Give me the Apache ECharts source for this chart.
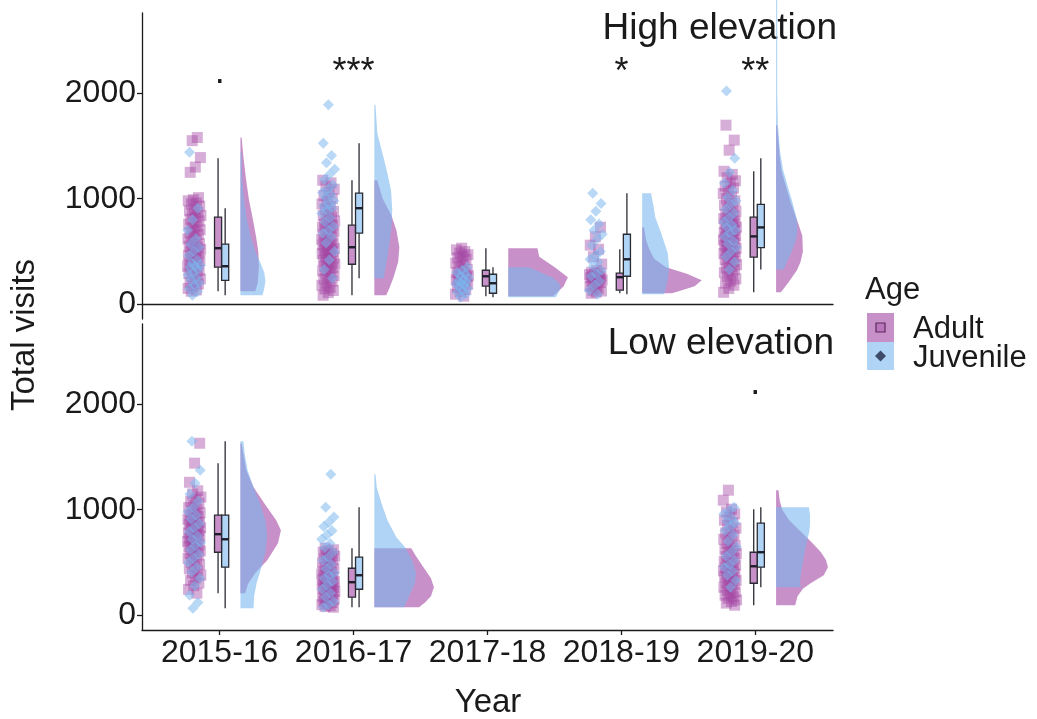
<!DOCTYPE html>
<html>
<head>
<meta charset="utf-8">
<script src="https://cdn.jsdelivr.net/npm/echarts@6.0.0/dist/echarts.min.js"></script>
<style>
  html, body { margin: 0; padding: 0; background: #fff; }
  #chart { width: 1037px; height: 719px; }
</style>
</head>
<body>
<div id="chart"></div>
<script>
// ---- data ---------------------------------------------------------------
const years = ['2015-16', '2016-17', '2017-18', '2018-19', '2019-20'];
const yTicks = [0, 1000, 2000];

// Total visits per bird, high elevation site (one list per year)
const highAdult = [
  [1580, 1550, 1390, 1300, 1250, 1010, 990, 980, 960, 950, 930, 900, 885, 870, 855, 840, 820, 805, 790, 775, 760, 740, 720, 705, 690, 675, 660, 640, 620, 605, 590, 575, 560, 550, 540, 530, 520, 510, 495, 480, 470, 460, 445, 430, 415, 400, 390, 380, 370, 360, 350, 335, 320, 305, 290, 275, 260, 240, 220, 205, 190, 170, 150, 135, 123],
  [1175, 1150, 1120, 1090, 1060, 1030, 1000, 975, 950, 925, 900, 880, 860, 840, 820, 805, 790, 775, 760, 750, 740, 730, 720, 705, 690, 675, 660, 645, 630, 615, 600, 590, 580, 570, 560, 550, 540, 530, 520, 510, 500, 490, 480, 465, 450, 440, 430, 415, 400, 390, 380, 370, 360, 345, 330, 315, 300, 285, 270, 255, 240, 220, 200, 180, 160, 145, 130, 110, 85],
  [531, 515, 500, 485, 470, 455, 440, 425, 410, 390, 370, 350, 330, 315, 300, 290, 280, 270, 265, 260, 250, 240, 230, 220, 205, 190, 175, 160, 140, 120, 95, 76],
  [730, 640, 560, 521, 450, 380, 320, 300, 294, 288, 280, 272, 265, 260, 256, 250, 245, 238, 230, 222, 215, 205, 190, 170, 150, 133, 125, 115, 104],
  [1697, 1555, 1460, 1260, 1230, 1200, 1170, 1150, 1120, 1100, 1075, 1050, 1020, 1000, 980, 960, 940, 920, 900, 880, 865, 850, 838, 826, 812, 800, 790, 780, 770, 760, 750, 740, 730, 720, 710, 700, 690, 680, 670, 660, 650, 643, 636, 630, 620, 610, 600, 590, 580, 570, 560, 550, 540, 530, 520, 510, 500, 490, 480, 470, 458, 447, 435, 420, 405, 390, 375, 360, 345, 330, 315, 300, 280, 260, 240, 220, 200, 180, 150, 113]
];
const highJuvenile = [
  [1440, 910, 800, 700, 620, 569, 540, 500, 460, 420, 390, 370, 360, 350, 330, 300, 280, 250, 227, 200, 180, 150, 120, 85],
  [1890, 1526, 1410, 1340, 1280, 1230, 1180, 1130, 1090, 1060, 1040, 1010, 980, 950, 930, 910, 890, 860, 820, 780, 740, 700, 673, 640, 580, 500, 420, 330, 246],
  [351, 320, 300, 284, 270, 255, 240, 225, 210, 200, 190, 180, 165, 150, 130, 110, 95, 66],
  [1052, 955, 880, 800, 760, 700, 663, 620, 560, 500, 460, 426, 400, 360, 320, 290, 265, 220, 180, 133, 95],
  [2900, 2020, 1383, 1250, 1150, 1080, 1014, 980, 946, 900, 862, 820, 780, 750, 728, 700, 670, 640, 600, 570, 537, 500, 450, 400, 330]
];
// Total visits per bird, low elevation site (no recordings in 2017-18, 2018-19)
const lowAdult = [
  [1630, 1441, 1260, 1180, 1150, 1120, 1100, 1080, 1060, 1040, 1020, 1000, 985, 970, 960, 948, 935, 920, 910, 900, 890, 880, 870, 860, 850, 840, 830, 820, 810, 800, 790, 780, 768, 760, 750, 740, 730, 720, 710, 700, 690, 680, 670, 660, 650, 635, 620, 610, 597, 585, 570, 555, 540, 520, 500, 480, 460, 440, 420, 400, 380, 355, 330, 305, 280, 245, 209],
  [635, 620, 610, 598, 585, 572, 560, 548, 535, 522, 510, 495, 480, 462, 445, 432, 420, 410, 400, 390, 380, 370, 360, 350, 340, 332, 325, 318, 313, 306, 300, 292, 285, 278, 270, 262, 255, 248, 240, 232, 225, 218, 210, 200, 190, 180, 171, 160, 150, 140, 130, 120, 110, 100, 90, 83, 76],
  [],
  [],
  [1185, 1090, 1005, 980, 960, 930, 900, 875, 850, 825, 800, 780, 760, 740, 720, 700, 680, 660, 640, 625, 610, 597, 585, 570, 555, 540, 525, 510, 500, 490, 477, 464, 452, 440, 430, 420, 410, 400, 390, 380, 365, 350, 340, 330, 316, 303, 290, 280, 265, 250, 235, 220, 205, 190, 175, 160, 145, 130, 115, 95]
];
const lowJuvenile = [
  [1649, 1374, 1250, 1150, 1080, 1020, 980, 948, 910, 870, 830, 790, 750, 720, 690, 660, 620, 580, 540, 500, 455, 410, 350, 280, 190, 120, 66],
  [1336, 1024, 930, 882, 840, 800, 760, 720, 680, 640, 600, 550, 520, 480, 440, 400, 379, 350, 320, 290, 246, 210, 170, 130, 100, 76],
  [],
  [],
  [1024, 990, 960, 920, 890, 872, 840, 800, 760, 700, 650, 597, 560, 520, 480, 455, 420, 380, 330, 265]
];

// Box summaries: [lower whisker, Q1, median, Q3, upper whisker]
const highAdultBox = [[123, 351, 531, 825, 1384], [85, 379, 540, 749, 1175], [76, 171, 265, 322, 531], [104, 133, 256, 294, 521], [113, 447, 643, 826, 1260]];
const highJuvenileBox = [[85, 227, 360, 569, 910], [246, 673, 910, 1052, 1526], [66, 104, 199, 284, 351], [95, 265, 426, 663, 1052], [330, 537, 728, 946, 1383]];
const lowAdultBox = [[209, 597, 768, 948, 1441], [76, 171, 313, 445, 635], null, null, [95, 303, 464, 597, 1005]];
const lowJuvenileBox = [[66, 455, 720, 948, 1649], [76, 246, 379, 550, 1024], null, null, [265, 455, 597, 872, 1024]];

// Density profiles: [visits, density relative to the tallest slab], low to high
const highAdultDensity = [
  [[123, 0.25], [200, 0.29], [350, 0.31], [500, 0.3], [650, 0.26], [800, 0.21], [1000, 0.14], [1200, 0.09], [1400, 0.05], [1580, 0.02]],
  [[85, 0.2], [150, 0.25], [250, 0.32], [400, 0.4], [540, 0.42], [700, 0.37], [850, 0.28], [1000, 0.14], [1175, 0.05]],
  [[76, 0.75], [100, 0.8], [170, 0.93], [256, 1.0], [350, 0.78], [450, 0.52], [531, 0.49]],
  [[104, 0.5], [120, 0.6], [170, 0.88], [227, 1.0], [290, 0.75], [351, 0.4], [430, 0.2], [521, 0.12], [600, 0.07], [730, 0.03]],
  [[113, 0.08], [200, 0.2], [322, 0.35], [400, 0.41], [500, 0.45], [650, 0.44], [800, 0.35], [957, 0.25], [1109, 0.17], [1270, 0.09], [1400, 0.06], [1555, 0.04], [1697, 0.02]]
];
const highJuvenileDensity = [
  [[85, 0.37], [150, 0.4], [220, 0.42], [300, 0.4], [400, 0.33], [500, 0.25], [650, 0.17], [800, 0.11], [1000, 0.06], [1200, 0.03], [1440, 0.01]],
  [[246, 0.16], [350, 0.19], [450, 0.22], [600, 0.26], [750, 0.29], [900, 0.3], [1080, 0.28], [1240, 0.22], [1400, 0.15], [1620, 0.05], [1890, 0.01]],
  [[66, 0.8], [120, 0.85], [160, 0.88], [200, 0.85], [250, 0.75], [300, 0.55], [351, 0.35]],
  [[95, 0.37], [227, 0.43], [351, 0.45], [483, 0.43], [673, 0.32], [825, 0.22], [900, 0.2], [1052, 0.15]],
  [[330, 0.13], [400, 0.18], [480, 0.25], [600, 0.33], [700, 0.36], [800, 0.35], [957, 0.28], [1109, 0.2], [1270, 0.12], [1431, 0.07], [1700, 0.03], [2020, 0.01], [2900, 0.0]]
];
const lowAdultDensity = [
  [[209, 0.08], [300, 0.13], [400, 0.25], [521, 0.45], [682, 0.63], [805, 0.68], [900, 0.6], [1062, 0.4], [1213, 0.22], [1374, 0.1], [1500, 0.06], [1630, 0.02]],
  [[76, 0.75], [120, 0.85], [180, 0.95], [265, 1.0], [350, 0.95], [450, 0.83], [560, 0.7], [635, 0.62]],
  null,
  null,
  [[95, 0.32], [180, 0.36], [250, 0.45], [303, 0.58], [380, 0.8], [455, 0.87], [520, 0.84], [600, 0.75], [700, 0.58], [800, 0.4], [900, 0.22], [1005, 0.1], [1090, 0.06], [1185, 0.04]]
];
const lowJuvenileDensity = [
  [[66, 0.22], [180, 0.23], [300, 0.27], [450, 0.35], [600, 0.42], [750, 0.45], [900, 0.42], [1062, 0.33], [1213, 0.22], [1374, 0.12], [1536, 0.07], [1649, 0.05]],
  [[76, 0.5], [200, 0.6], [300, 0.68], [400, 0.7], [500, 0.65], [635, 0.53], [739, 0.37], [900, 0.22], [1062, 0.12], [1213, 0.04], [1336, 0.02]],
  null,
  null,
  [[265, 0.42], [300, 0.4], [400, 0.42], [500, 0.45], [600, 0.48], [700, 0.52], [800, 0.56], [872, 0.57], [950, 0.57], [1024, 0.55]]
];

// Significance of the age difference per year
const highSignif = ['.', '***', '', '*', '**'];
const lowSignif = ['', '', '', '', '.'];
const signifAt = 2190;

// ---- styling / layout ---------------------------------------------------
const FONT = "'Liberation Sans', Arial, Helvetica, sans-serif";
const INK = '#1a1a1a';
const ADULT_PT = 'rgba(163,70,163,0.55)';
const JUV_PT = 'rgba(123,183,238,0.68)';
const ADULT_FILL = 'rgba(163,70,163,0.6)';
const JUV_FILL = 'rgba(123,183,238,0.6)';
const BOX_LINE = '#2b2b33';

const X_MIN = 0.42, X_MAX = 5.58;
const Y_MIN = -140, Y_MAX = 2760;
const BOX_W = 0.053, ADULT_BOX_DX = -0.012, JUV_BOX_DX = 0.041;
const SLAB_DX = 0.155, SLAB_MAX_W = 0.445;
const PT_DX = -0.19, PT_SPREAD = 0.1;

// even horizontal spread of the raw points beside each box
function spread(i, seed) {
  const f = ((i + 1) * 0.6180339887 + seed) % 1;
  return PT_DX + (f - 0.5) * PT_SPREAD;
}

function pointData(groups, seed) {
  const out = [];
  groups.forEach((vals, k) => {
    vals.forEach((v, i) => out.push([k + 1 + spread(i, seed + k * 0.37), v]));
  });
  return out;
}

function slabSeries(profiles, fill, gi, z) {
  const data = [];
  profiles.forEach((p, k) => { if (p) data.push([k + 1, p[0][0]]); });
  return {
    type: 'custom', xAxisIndex: gi, yAxisIndex: gi, z, silent: true,
    encode: { x: 0, y: 1 },
    data,
    renderItem(params, api) {
      const k = api.value(0);
      const prof = profiles[k - 1];
      const x0 = k + SLAB_DX;
      const base = prof.map(([v]) => api.coord([x0, v]));
      const edge = prof.map(([v, d], j) => {
        const p = api.coord([x0 + d * SLAB_MAX_W, v]);
        return [Math.max(p[0], base[j][0] + 1.1), p[1]];
      });
      return { type: 'polygon', shape: { points: base.concat(edge.reverse()) }, style: { fill, stroke: null } };
    }
  };
}

function boxSeries(boxes, dx, fill, gi) {
  const data = [];
  boxes.forEach((b, k) => { if (b) data.push([k + 1].concat(b)); });
  return {
    type: 'custom', xAxisIndex: gi, yAxisIndex: gi, z: 5, silent: true,
    encode: { x: 0, y: [1, 2, 3, 4, 5] },
    data,
    renderItem(params, api) {
      const x = api.value(0) + dx;
      const lo = api.value(1), q1 = api.value(2), md = api.value(3), q3 = api.value(4), hi = api.value(5);
      const top = api.coord([x, hi]), bot = api.coord([x, lo]);
      const tl = api.coord([x - BOX_W / 2, q3]), br = api.coord([x + BOX_W / 2, q1]);
      const mdl = api.coord([x - BOX_W / 2, md]), mdr = api.coord([x + BOX_W / 2, md]);
      const ls = { stroke: BOX_LINE, lineWidth: 1.3 };
      return {
        type: 'group',
        children: [
          { type: 'line', shape: { x1: top[0], y1: top[1], x2: top[0], y2: tl[1] }, style: ls },
          { type: 'line', shape: { x1: bot[0], y1: br[1], x2: bot[0], y2: bot[1] }, style: ls },
          { type: 'rect', shape: { x: tl[0], y: tl[1], width: br[0] - tl[0], height: br[1] - tl[1] }, style: { fill, stroke: BOX_LINE, lineWidth: 1.3 } },
          { type: 'line', shape: { x1: mdl[0], y1: mdl[1], x2: mdr[0], y2: mdr[1] }, style: { stroke: '#1e1e2a', lineWidth: 2.4 } }
        ]
      };
    }
  };
}

function signifSeries(marks, gi) {
  const data = [];
  marks.forEach((m, k) => { if (m) data.push([k + 1, signifAt, m]); });
  return {
    type: 'custom', xAxisIndex: gi, yAxisIndex: gi, z: 6, silent: true,
    encode: { x: 0, y: 1 },
    data,
    renderItem(params, api) {
      const p = api.coord([api.value(0), api.value(1)]);
      const txt = data[params.dataIndex][2];
      return {
        type: 'text', x: p[0], y: p[1],
        style: { text: txt, fill: INK, font: '36px ' + FONT, textAlign: 'center', align: 'center', textVerticalAlign: 'middle', verticalAlign: 'middle' }
      };
    }
  };
}

function scatterSeries(groups, symbol, size, color, gi, seed, z) {
  return {
    type: 'scatter', xAxisIndex: gi, yAxisIndex: gi, z, silent: true,
    symbol, symbolSize: size,
    itemStyle: { color, borderWidth: 0 },
    data: pointData(groups, seed)
  };
}

const axisLineStyle = { color: INK, width: 1.3 };
const labelStyle = { color: INK, fontSize: 32, fontFamily: FONT };

function yAxisFor(gi) {
  return {
    type: 'value', gridIndex: gi, min: Y_MIN, max: Y_MAX,
    splitLine: { show: false },
    axisLine: { show: true, onZero: false, lineStyle: axisLineStyle },
    axisTick: { show: true, length: 5, customValues: yTicks, lineStyle: axisLineStyle },
    axisLabel: Object.assign({ customValues: yTicks, margin: 6, formatter: v => String(v) }, labelStyle)
  };
}

const option = {
  animation: false,
  backgroundColor: '#fff',
  grid: [
    { left: 142, top: 13, width: 691, height: 306 },
    { left: 142, top: 324, width: 691, height: 306 }
  ],
  xAxis: [
    {
      type: 'value', gridIndex: 0, min: X_MIN, max: X_MAX,
      splitLine: { show: false },
      axisLine: { show: true, onZero: true, lineStyle: axisLineStyle },
      axisTick: { show: false }, axisLabel: { show: false }
    },
    {
      type: 'value', gridIndex: 1, min: X_MIN, max: X_MAX,
      splitLine: { show: false },
      axisLine: { show: true, onZero: false, lineStyle: axisLineStyle },
      axisTick: { show: true, length: 5, customValues: [1, 2, 3, 4, 5], lineStyle: axisLineStyle },
      axisLabel: Object.assign({ customValues: [1, 2, 3, 4, 5], margin: 7, formatter: v => years[Math.round(v) - 1] || '' }, labelStyle)
    }
  ],
  yAxis: [yAxisFor(0), yAxisFor(1)],
  series: [
    scatterSeries(highAdult, 'rect', 11, ADULT_PT, 0, 0.11, 2),
    scatterSeries(highJuvenile, 'diamond', 11, JUV_PT, 0, 0.53, 3),
    scatterSeries(lowAdult, 'rect', 11, ADULT_PT, 1, 0.29, 2),
    scatterSeries(lowJuvenile, 'diamond', 11, JUV_PT, 1, 0.71, 3),
    boxSeries(highAdultBox, ADULT_BOX_DX, ADULT_FILL, 0),
    boxSeries(highJuvenileBox, JUV_BOX_DX, JUV_FILL, 0),
    boxSeries(lowAdultBox, ADULT_BOX_DX, ADULT_FILL, 1),
    boxSeries(lowJuvenileBox, JUV_BOX_DX, JUV_FILL, 1),
    slabSeries(highAdultDensity, ADULT_FILL, 0, 2),
    slabSeries(highJuvenileDensity, JUV_FILL, 0, 3),
    slabSeries(lowAdultDensity, ADULT_FILL, 1, 2),
    slabSeries(lowJuvenileDensity, JUV_FILL, 1, 3),
    signifSeries(highSignif, 0),
    signifSeries(lowSignif, 1)
  ],
  graphic: [
    { type: 'text', x: 837, y: 29, style: { text: 'High elevation', fill: INK, font: '37px ' + FONT, textAlign: 'right', align: 'right', textVerticalAlign: 'middle', verticalAlign: 'middle' } },
    { type: 'text', x: 834, y: 344, style: { text: 'Low elevation', fill: INK, font: '37px ' + FONT, textAlign: 'right', align: 'right', textVerticalAlign: 'middle', verticalAlign: 'middle' } },
    { type: 'text', x: 488, y: 703, style: { text: 'Year', fill: INK, font: '33px ' + FONT, textAlign: 'center', align: 'center', textVerticalAlign: 'middle', verticalAlign: 'middle' } },
    { type: 'text', x: 25, y: 335, rotation: Math.PI / 2, style: { text: 'Total visits', fill: INK, font: '33px ' + FONT, textAlign: 'center', align: 'center', textVerticalAlign: 'middle', verticalAlign: 'middle' } },
    // legend
    { type: 'text', x: 865, y: 290, style: { text: 'Age', fill: INK, font: '31px ' + FONT, textAlign: 'left', align: 'left', textVerticalAlign: 'middle', verticalAlign: 'middle' } },
    { type: 'rect', shape: { x: 867, y: 313, width: 27, height: 29 }, style: { fill: ADULT_FILL } },
    { type: 'rect', shape: { x: 876, y: 323, width: 9, height: 9 }, style: { fill: 'rgba(163,70,163,0.35)', stroke: '#5a2a5a', lineWidth: 1.2 } },
    { type: 'rect', shape: { x: 867, y: 342, width: 27, height: 28 }, style: { fill: JUV_FILL } },
    { type: 'polygon', shape: { points: [[880.5, 350.5], [886, 356], [880.5, 361.5], [875, 356]] }, style: { fill: '#3e4b68' } },
    { type: 'text', x: 913, y: 329, style: { text: 'Adult', fill: INK, font: '31px ' + FONT, textAlign: 'left', align: 'left', textVerticalAlign: 'middle', verticalAlign: 'middle' } },
    { type: 'text', x: 913, y: 358, style: { text: 'Juvenile', fill: INK, font: '31px ' + FONT, textAlign: 'left', align: 'left', textVerticalAlign: 'middle', verticalAlign: 'middle' } }
  ]
};

const chart = echarts.init(document.getElementById('chart'), null, { renderer: 'canvas' });
chart.setOption(option);
</script>
</body>
</html>
